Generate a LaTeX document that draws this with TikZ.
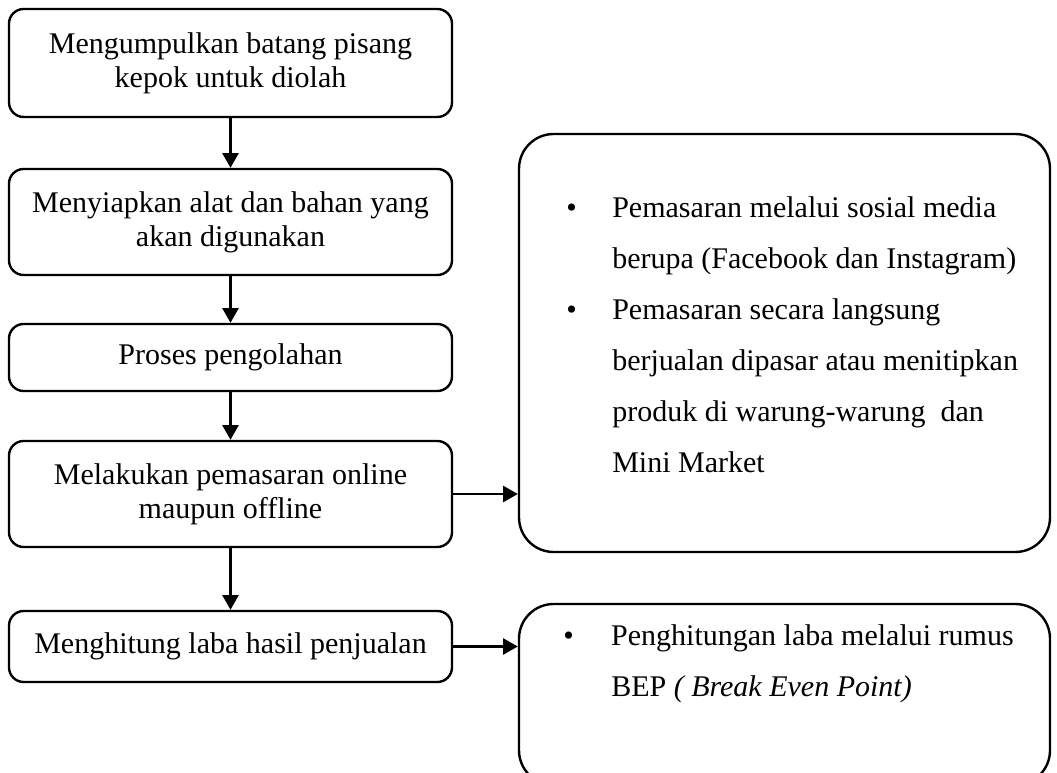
\documentclass[tikz,border=0pt]{standalone}
\usepackage{fontspec}
\setmainfont{Liberation Serif}
\usetikzlibrary{arrows.meta}
\begin{document}
\begin{tikzpicture}[x=0.75pt,y=-0.75pt,
  lbox/.style={draw,line width=1.8pt,rounded corners=11pt,inner sep=0pt,minimum width=332.25pt,align=center,font=\fontsize{22.5pt}{25.5pt}\selectfont},
  rbox/.style={draw,line width=1.8pt,rounded corners=26pt,inner sep=0pt,minimum width=398.25pt},
  conn/.style={line width=1.8pt,-{Triangle[length=11pt,width=12pt]}},
  rtext/.style={anchor=base west,inner sep=0pt,font=\fontsize{22.5pt}{38.25pt}\selectfont}]
\clip (0,0) rectangle (1057,773);
\node[lbox,minimum height=81pt] (b1) at (230.5,63) {Mengumpulkan batang pisang\\kepok untuk diolah};
\node[lbox,minimum height=79.5pt] (b2) at (230.5,222) {Menyiapkan alat dan bahan yang\\akan digunakan};
\node[lbox,minimum height=50.25pt] (b3) at (230.5,357.5) {Proses pengolahan};
\node[lbox,minimum height=79.5pt] (b4) at (230.5,494) {Melakukan pemasaran online\\maupun offline};
\node[lbox,minimum height=53.25pt] (b5) at (230.5,646.5) {Menghitung laba hasil penjualan};
\node[rbox,minimum height=313.5pt] (r1) at (784.5,343) {};
\node[rbox,minimum height=135.75pt] (r2) at (784.5,694.5) {};
\node[rtext] (t1) at (566,218) {\parbox[t]{360pt}{\leftskip=34.5pt\parindent=0pt\leavevmode\llap{\makebox[34.5pt][l]{\textbullet}}Pemasaran melalui sosial media\\berupa (Facebook dan Instagram)\par
\leavevmode\llap{\makebox[34.5pt][l]{\textbullet}}Pemasaran secara langsung\\berjualan dipasar atau menitipkan\\produk di warung-warung\ \ dan\\Mini Market}};
\node[rtext] (t2) at (563,645) {\parbox[t]{360pt}{\leftskip=36pt\parindent=0pt\leavevmode\llap{\makebox[36pt][l]{\textbullet}}Penghitungan laba melalui rumus\\BEP \textit{( Break Even Point)}}};
\draw[conn] (b1) -- (b2);
\draw[conn] (b2) -- (b3);
\draw[conn] (b3) -- (b4);
\draw[conn] (b4) -- (b5);
\draw[conn] (b4.east) -- (b4.east -| r1.west);
\draw[conn] (b5.east) -- (b5.east -| r2.west);
\end{tikzpicture}
\end{document}
